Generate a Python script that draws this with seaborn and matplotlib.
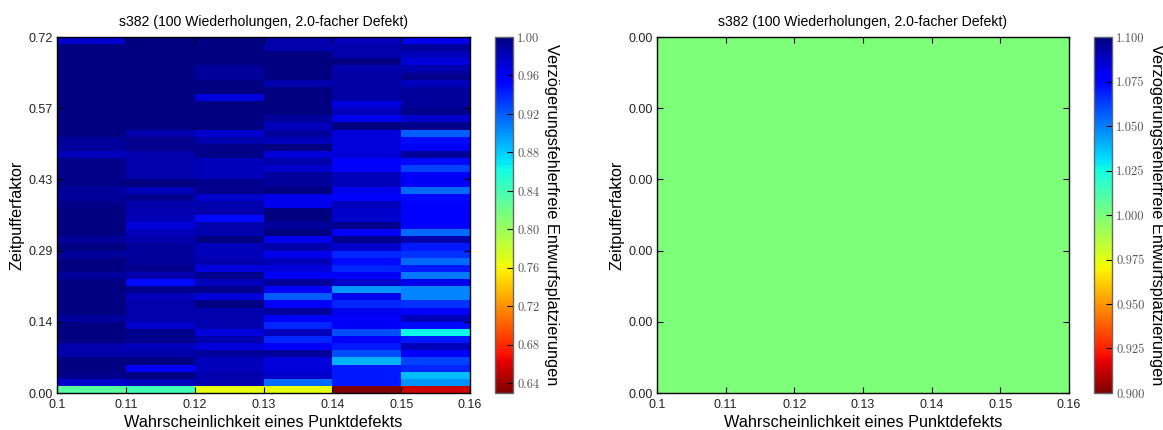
import numpy as np
import pandas as pd
import matplotlib
matplotlib.use("Agg")
import matplotlib.pyplot as plt
import seaborn as sns

TITLE = "s382 (100 Wiederholungen, 2.0-facher Defekt)"
XLABEL = "Wahrscheinlichkeit eines Punktdefekts"
YLABEL = "Zeitpufferfaktor"
CBLABEL = "Verzögerungsfehlerfreie Entwurfsplatzierungen"
x_labels = ["0.1", "0.11", "0.12", "0.13", "0.14", "0.15", "0.16"]
y_labels_left = ["0.72", "0.57", "0.43", "0.29", "0.14", "0.00"]
y_labels_right = ["0.00"] * 6
cb_left = [1.00, 0.96, 0.92, 0.88, 0.84, 0.80, 0.76, 0.72, 0.68, 0.64]
cb_right = [1.100, 1.075, 1.050, 1.025, 1.000, 0.975, 0.950, 0.925, 0.900]

# columns, rows listed from the top of the picture to the bottom
col1 = [.975, 1.0, 1.0, 1.0, 1.0, 1.0, 1.0, 1.0, 1.0, 1.0,
        1.0, 1.0, 1.0, 1.0, .99, .99, .98, .997, .997, .997,
        .997, .99, .99, .997, .999, .999, .999, .999, .99, .999,
        .99, .999, .999, .99, .999, .999, .999, .999, .999, .99,
        .999, .999, .999, .985, .985, .999, .999, .995, .975, .83]
col2 = [1.0, 1.0, 1.0, 1.0, 1.0, 1.0, 1.0, 1.0, 1.0, 1.0,
        1.0, 1.0, 1.0, .985, .995, .995, .985, .985, .985, .985,
        .999, .98, .995, .985, .985, .98, .97, .98, .985, .99,
        .99, .99, .995, .985, .95, .995, .98, .985, .985, .985,
        .975, .995, .995, .98, .985, .999, .96, .999, .98, .84]
col3 = [1.0, 1.0, 1.0, 1.0, .99, .99, 1.0, 1.0, .97, 1.0,
        1.0, 1.0, 1.0, .975, .985, .997, .997, .98, .98, .98,
        .995, .995, .975, .985, .985, .95, .985, .985, .999, .98,
        .98, .985, .97, .995, .98, .995, .97, .999, .985, .985,
        .985, .97, .985, .97, .99, .98, .98, .985, .985, .767]
col4 = [.985, .985, .999, .999, .999, .999, .985, .999, .999, .999,
        .999, .99, .98, .99, .98, .999, .97, .985, .975, .99,
        .99, .999, .965, .965, .999, .999, .99, .999, .965, .985,
        .965, .98, .97, .96, .99, .955, .92, .96, .99, .96,
        .94, .98, .94, .96, .99, .97, .97, .975, .915, .767]
col5 = [.98, .985, .985, .999, .985, .987, .987, .987, .987, .97,
        .98, .965, .999, .97, .97, .97, .97, .955, .96, .98,
        .98, .965, .955, .98, .975, .975, .995, .96, .995, .975,
        .94, .95, .94, .96, .975, .90, .965, .94, .965, .96,
        .96, .925, .96, .945, .925, .89, .945, .945, .945, .63]
col6 = [.965, .99, .98, .97, .985, .995, .98, .99, .99, .99,
        .995, .975, .995, .92, .95, .96, .99, .95, .93, .96,
        .96, .915, .95, .955, .955, .955, .955, .915, .985, .945,
        .935, .915, .945, .91, .965, .905, .905, .935, .955, .98,
        .95, .863, .945, .98, .96, .93, .94, .885, .90, .655]
flat_value = 1.0

FW, FH = 1163, 430
plt.rcParams["font.family"] = ["Liberation Sans", "DejaVu Sans"]
fig = plt.figure(figsize=(FW / 100, FH / 100), dpi=100)


def rect(x0, y0, x1, y1):
    return [x0 / FW, 1 - y1 / FH, (x1 - x0) / FW, (y1 - y0) / FH]


def panel(data, vmin, vmax, axx, cbx, ylabels, cbticks, fmt):
    ax = fig.add_axes(rect(axx[0], 37, axx[1], 393))
    cax = fig.add_axes(rect(cbx[0], 37, cbx[1], 393))
    sns.heatmap(data, ax=ax, cbar_ax=cax, cmap="jet_r", vmin=vmin, vmax=vmax,
                xticklabels=False, yticklabels=False,
                cbar_kws={"ticks": cbticks})
    ax.set_xticks(np.arange(len(x_labels)))
    ax.set_xticklabels(x_labels, rotation=0, fontsize=9, color="#222222")
    ax.set_yticks(np.arange(0, 51, 10))
    ax.set_yticklabels(ylabels, rotation=0, fontsize=9, color="#222222")
    ax.tick_params(axis="x", direction="in", top=True, bottom=True, length=4, width=0.8, pad=4.5)
    ax.tick_params(axis="y", direction="in", left=True, right=True, length=4, width=0.8, pad=3)
    for s in ax.spines.values():
        s.set_visible(True)
        s.set_linewidth(1.0)
        s.set_color("black")
    ax.set_title(TITLE, fontsize=10.1, pad=8)
    ax.set_xlabel(XLABEL, fontsize=11.7, labelpad=2.5)
    ax.set_ylabel(YLABEL, fontsize=11.7, labelpad=3)
    cax.set_yticks(cbticks)
    cax.set_yticklabels([fmt % t for t in cbticks], family="cmr10",
                        fontsize=9, color="#555555")
    cax.tick_params(axis="y", direction="in", length=4, width=0.8, right=True, left=False, pad=3)
    cbar = ax.collections[0].colorbar
    cbar.outline.set_visible(True)
    cbar.outline.set_edgecolor("#666666")
    cbar.outline.set_linewidth(1.0)
    cax.yaxis.set_label_position("right")
    cax.set_ylabel(CBLABEL, rotation=270, fontsize=11.8, labelpad=14)


left = pd.DataFrame({"a": col1, "b": col2, "c": col3, "d": col4, "e": col5, "f": col6})
right = pd.DataFrame(np.full(left.shape, flat_value), columns=left.columns)
panel(left, 0.63, 1.0, (57, 470), (495, 513), y_labels_left, cb_left, "%.2f")
panel(right, 0.9, 1.1, (657, 1069), (1094, 1112), y_labels_right, cb_right, "%.3f")

fig.savefig("out.png", dpi=100)
